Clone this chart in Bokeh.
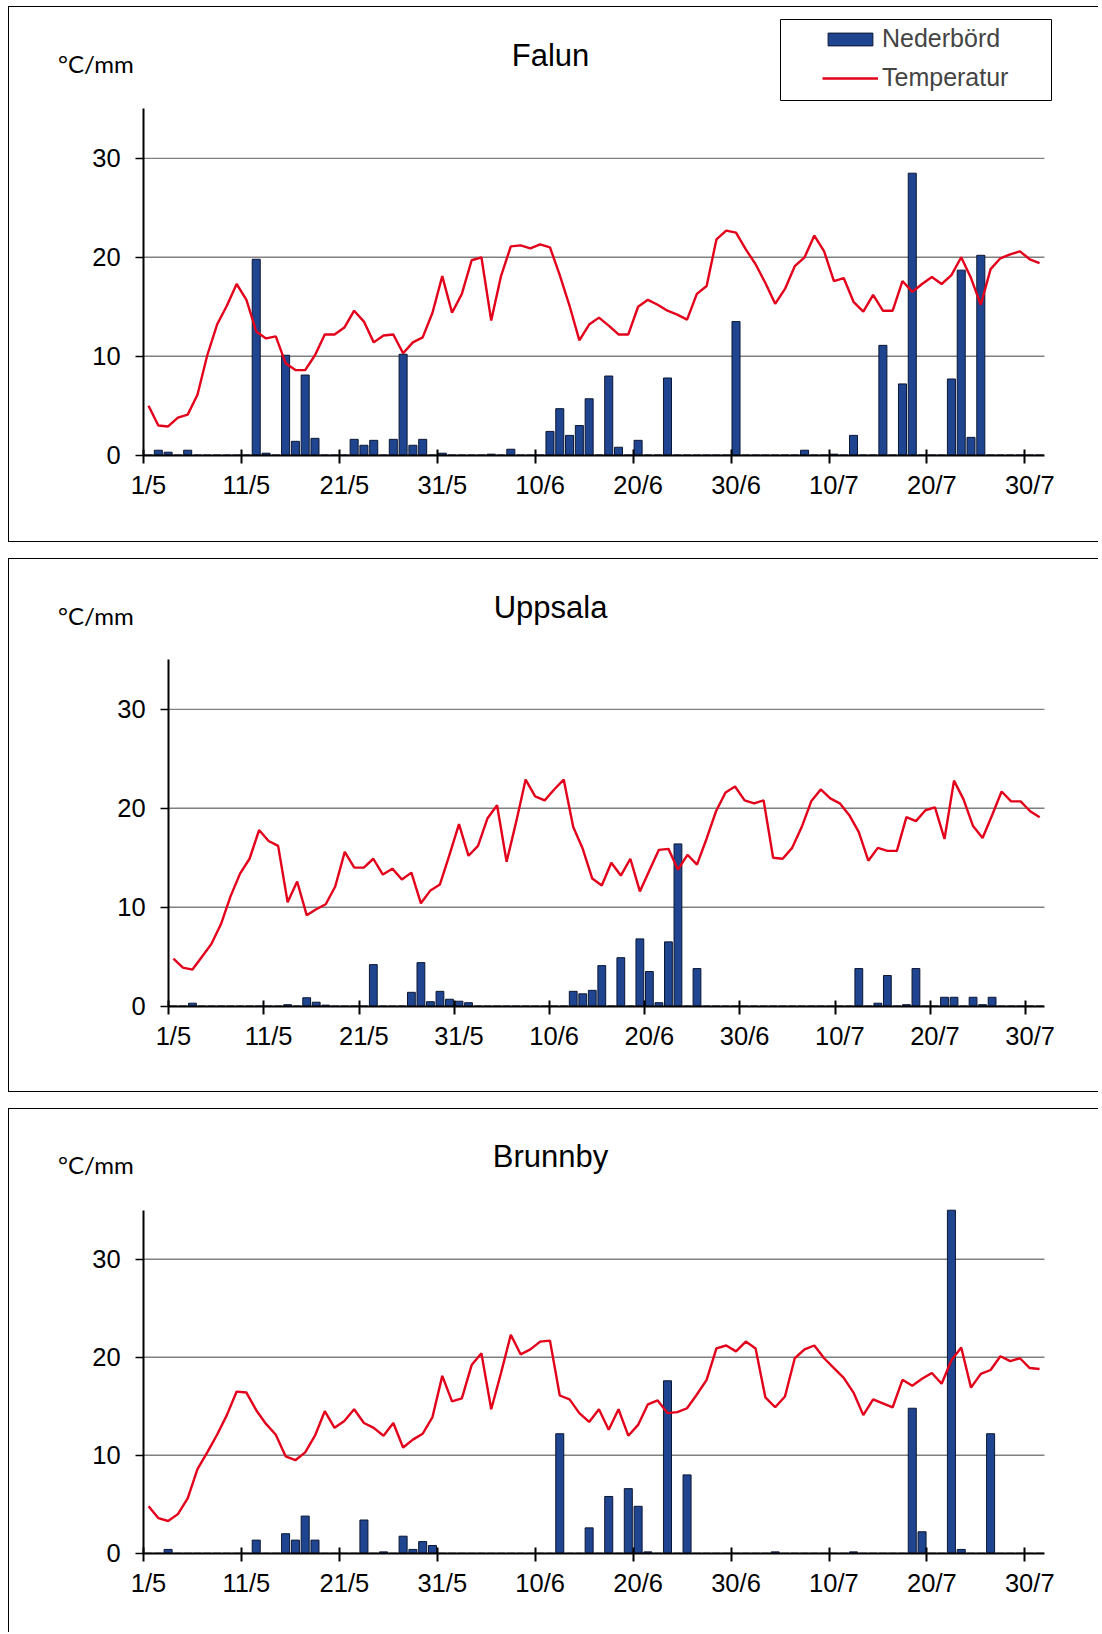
from bokeh.plotting import figure
from bokeh.models import (Range1d, FixedTicker, Label, Legend, LegendItem, BoxAnnotation,
                          LinearAxis)
from bokeh.layouts import column
from bokeh.embed import file_html
from bokeh.resources import INLINE

# ---- categories (1/5 .. 31/7, one per day) ----
days = list(range(92))
label_days = [0, 10, 20, 30, 40, 50, 60, 70, 80, 90]
tick_labels = ["1/5", "11/5", "21/5", "31/5", "10/6", "20/6", "30/6", "10/7", "20/7", "30/7"]
y_ticks = [0, 10, 20, 30]
grid_ticks = [10, 20, 30]
Y_MAX = 35

# ---- Falun ----
falun_temp = [5.0, 3.0, 2.9, 3.8, 4.1, 6.1, 10.1, 13.2, 15.1, 17.3,
              15.7, 12.5, 11.8, 12.0, 9.3, 8.6, 8.6, 10.1, 12.2, 12.2,
              12.9, 14.6, 13.5, 11.4, 12.1, 12.2, 10.3, 11.4, 11.9, 14.4,
              18.1, 14.4, 16.3, 19.7, 20.0, 13.6, 18.1, 21.1, 21.2, 20.9,
              21.3, 21.0, 18.2, 15.1, 11.6, 13.2, 13.9, 13.1, 12.2, 12.2,
              15.0, 15.7, 15.2, 14.6, 14.2, 13.7, 16.3, 17.1, 21.8, 22.7,
              22.5, 20.8, 19.3, 17.4, 15.3, 16.8, 19.1, 20.0, 22.2, 20.6,
              17.6, 17.9, 15.5, 14.5, 16.2, 14.6, 14.6, 17.6, 16.5, 17.3,
              18.0, 17.3, 18.2, 20.0, 17.9, 15.2, 18.8, 19.9, 20.3, 20.6,
              19.8, 19.4]
falun_rain = [0, 0.5, 0.3, 0, 0.5, 0, 0, 0, 0, 0,
              0, 19.8, 0.2, 0, 10.1, 1.4, 8.1, 1.7, 0, 0,
              0, 1.6, 1.0, 1.5, 0, 1.6, 10.2, 1.0, 1.6, 0,
              0.2, 0, 0, 0, 0, 0.1, 0, 0.6, 0, 0,
              0, 2.4, 4.7, 2.0, 3.0, 5.7, 0, 8.0, 0.8, 0,
              1.5, 0, 0, 7.8, 0, 0, 0, 0, 0, 0,
              13.5, 0, 0, 0, 0, 0, 0, 0.5, 0, 0,
              0.1, 0, 2.0, 0, 0, 11.1, 0, 7.2, 28.5, 0,
              0, 0, 7.7, 18.7, 1.8, 20.2, 0, 0, 0, 0,
              0, 0]

# ---- Uppsala ----
uppsala_temp = [4.8, 3.9, 3.7, 5.0, 6.3, 8.3, 11.1, 13.4, 14.9, 17.8,
                16.7, 16.2, 10.5, 12.6, 9.2, 9.8, 10.3, 12.1, 15.6, 14.0,
                14.0, 14.9, 13.3, 13.9, 12.8, 13.5, 10.4, 11.7, 12.3, 15.3,
                18.4, 15.2, 16.2, 19.0, 20.3, 14.6, 18.6, 22.9, 21.2, 20.8,
                21.9, 22.9, 18.1, 15.9, 12.9, 12.2, 14.5, 13.2, 14.9, 11.6,
                13.7, 15.8, 15.9, 13.8, 15.3, 14.3, 16.9, 19.7, 21.6, 22.2,
                20.8, 20.5, 20.8, 15.0, 14.9, 16.0, 18.1, 20.7, 21.9, 21.0,
                20.5, 19.3, 17.6, 14.7, 16.0, 15.7, 15.7, 19.1, 18.7, 19.8,
                20.1, 16.9, 22.8, 20.9, 18.2, 17.0, 19.3, 21.7, 20.7, 20.7,
                19.7, 19.1]
uppsala_rain = [0, 0, 0.3, 0, 0, 0, 0, 0, 0, 0,
                0, 0, 0.15, 0, 0.85, 0.4, 0.1, 0, 0, 0,
                0, 4.2, 0, 0, 0, 1.4, 4.4, 0.45, 1.5, 0.7,
                0.5, 0.35, 0, 0, 0, 0, 0, 0, 0, 0,
                0, 0, 1.5, 1.25, 1.6, 4.1, 0, 4.9, 0, 6.8,
                3.5, 0.35, 6.5, 16.4, 0, 3.8, 0, 0, 0, 0,
                0, 0, 0, 0, 0, 0, 0, 0, 0, 0,
                0, 0, 3.8, 0, 0.3, 3.1, 0, 0.15, 3.8, 0,
                0, 0.9, 0.9, 0, 0.9, 0.15, 0.9, 0, 0, 0,
                0, 0]

# ---- Brunnby ----
brunnby_temp = [4.8, 3.6, 3.3, 4.0, 5.6, 8.6, 10.3, 12.1, 14.1, 16.5,
                16.4, 14.6, 13.2, 12.1, 9.9, 9.5, 10.3, 12.0, 14.5, 12.8,
                13.5, 14.7, 13.3, 12.8, 12.0, 13.3, 10.8, 11.6, 12.2, 13.9,
                18.1, 15.5, 15.8, 19.2, 20.4, 14.7, 18.4, 22.3, 20.3, 20.8,
                21.6, 21.7, 16.1, 15.7, 14.3, 13.4, 14.7, 12.6, 14.7, 12.0,
                13.1, 15.2, 15.6, 14.3, 14.4, 14.8, 16.2, 17.7, 20.9, 21.2,
                20.6, 21.6, 20.9, 15.9, 14.9, 16.0, 19.9, 20.8, 21.2, 19.9,
                18.9, 17.9, 16.4, 14.1, 15.7, 15.3, 14.9, 17.7, 17.1, 17.8,
                18.4, 17.3, 19.7, 21.0, 16.9, 18.3, 18.7, 20.1, 19.6, 19.9,
                18.9, 18.8]
brunnby_rain = [0, 0, 0.4, 0, 0, 0, 0, 0, 0, 0,
                0, 1.35, 0, 0, 2.0, 1.35, 3.8, 1.35, 0, 0,
                0, 0, 3.4, 0, 0.15, 0, 1.75, 0.4, 1.2, 0.8,
                0, 0, 0, 0, 0, 0, 0, 0, 0, 0,
                0, 0, 12.2, 0, 0, 2.6, 0, 5.8, 0, 6.6,
                4.8, 0.15, 0, 17.6, 0, 8.0, 0, 0, 0, 0,
                0, 0, 0, 0, 0.15, 0, 0, 0, 0, 0,
                0, 0, 0.15, 0, 0, 0, 0, 0, 14.8, 2.2,
                0, 0, 40.0, 0.4, 0, 0, 12.2, 0, 0, 0,
                0, 0]

BAR_FILL = "#1F4591"
BAR_LINE = "#0B1733"
LINE_RED = "#E3001B"
GRID = "#808080"
SANS = "Liberation Sans"
TICK_SIZE = "25.5px"
W = 1090          # figure outer width (incl. 1px left border)
CL = 9            # content left (page px)
FRAME_RIGHT = 1043
X_LO_B, X_HI_B = days[0] - 0.5, days[-1] + 0.5


def make_panel(name, temp, rain, box_top, H, axis_left, y0_rel, y35_rel,
               legend=False, bottom_border=True):
    ct = box_top + 1
    cb = box_top + H - (1 if bottom_border else 0)
    ch = cb - ct
    cw = W - 1
    y0_abs = box_top + y0_rel
    y35_abs = box_top + y35_rel
    pxd = (FRAME_RIGHT - axis_left) / 92.0
    pyu = (y0_abs - y35_abs) / float(Y_MAX)
    x_lo = X_LO_B - (axis_left - CL) / pxd
    y_lo = -(cb - y0_abs) / pyu

    styles = {"border-left": "1px solid #000", "border-top": "1px solid #000"}
    if bottom_border:
        styles["border-bottom"] = "1px solid #000"
    p = figure(width=W, height=H, output_backend="svg", toolbar_location=None,
               x_range=Range1d(x_lo, x_lo + cw / pxd), y_range=Range1d(y_lo, y_lo + ch / pyu),
               x_axis_location=None, y_axis_location=None,
               min_border=0, min_border_left=0, min_border_right=0,
               min_border_top=0, min_border_bottom=0,
               background_fill_color="white", border_fill_color="white",
               outline_line_color=None, styles=styles, frame_align=False)

    # x axis on the zero line
    xa = LinearAxis(fixed_location=0, bounds=(X_LO_B, X_HI_B))
    xa.ticker = FixedTicker(ticks=label_days, minor_ticks=[d - 0.5 for d in label_days])
    xa.major_label_overrides = {d: t for d, t in zip(label_days, tick_labels)}
    xa.axis_line_width = 2
    xa.axis_line_color = "black"
    xa.major_tick_in = 0
    xa.major_tick_out = 0
    xa.minor_tick_in = 6
    xa.minor_tick_out = 8
    xa.minor_tick_line_width = 2
    xa.minor_tick_line_color = "black"
    xa.major_label_standoff = 8
    xa.major_label_text_font = SANS
    xa.major_label_text_font_size = TICK_SIZE
    xa.major_label_text_color = "black"
    p.add_layout(xa, "below")

    ya = LinearAxis(fixed_location=X_LO_B, bounds=(0, Y_MAX))
    ya.ticker = FixedTicker(ticks=y_ticks)
    ya.minor_tick_line_color = None
    ya.major_tick_in = 0
    ya.major_tick_out = 8
    ya.major_tick_line_width = 1.5
    ya.major_tick_line_color = "black"
    ya.axis_line_width = 2
    ya.axis_line_color = "black"
    ya.major_label_standoff = 15
    ya.major_label_text_font = SANS
    ya.major_label_text_font_size = TICK_SIZE
    ya.major_label_text_color = "black"
    p.add_layout(ya, "left")

    p.xgrid.visible = False
    p.ygrid.visible = False
    # horizontal grid lines spanning the category axis only
    p.segment(x0=[X_LO_B] * len(grid_ticks), x1=[X_HI_B] * len(grid_ticks),
              y0=grid_ticks, y1=grid_ticks, line_color=GRID, line_width=1.4)

    shown = [min(v, Y_MAX) for v in rain]
    bars = p.vbar(x=days, top=shown, bottom=0, width=0.82, fill_color=BAR_FILL,
                  line_color=BAR_LINE, line_width=1)
    temp_line = p.line(days, temp, line_color=LINE_RED, line_width=2.4)

    def sx(a):
        return a - CL

    def sy(a):
        return cb - a

    p.add_layout(Label(x=sx(57.5), y=sy(box_top + 67) + 12, x_units="screen", y_units="screen",
                       text="°C/mm", text_font="Lato", text_font_size="24px",
                       text_color="black", text_align="left", text_baseline="alphabetic"))
    p.add_layout(Label(x=sx(550), y=sy(box_top + 59.5) + 13, x_units="screen", y_units="screen",
                       text=name, text_font=SANS, text_font_size="31px",
                       text_color="black", text_align="center", text_baseline="alphabetic"))

    if legend:
        p.add_layout(BoxAnnotation(left=sx(780), right=sx(1051),
                                   top=sy(box_top + 11), bottom=sy(box_top + 92),
                                   left_units="screen", right_units="screen",
                                   top_units="screen", bottom_units="screen",
                                   fill_color=None, fill_alpha=0, line_color="black",
                                   line_width=1, line_alpha=1))
        lg = Legend(items=[LegendItem(label="Nederbörd", renderers=[bars]),
                           LegendItem(label="Temperatur", renderers=[temp_line])],
                    location=(sx(822), sy(box_top + 84)), padding=0, margin=0, spacing=10,
                    glyph_width=56, glyph_height=16, label_standoff=4,
                    label_text_font=SANS, label_text_font_size="25px",
                    border_line_color=None, background_fill_alpha=0)
        p.add_layout(lg)
    return p


p1 = make_panel("Falun", falun_temp, falun_rain, box_top=6, H=536, axis_left=143,
                y0_rel=447, y35_rel=102, legend=True)
p2 = make_panel("Uppsala", uppsala_temp, uppsala_rain, box_top=558, H=534, axis_left=168,
                y0_rel=446, y35_rel=101)
p3 = make_panel("Brunnby", brunnby_temp, brunnby_rain, box_top=1108, H=524, axis_left=143,
                y0_rel=444, y35_rel=101.5, bottom_border=False)

layout = column(p1, p2, p3, spacing=16, margin=(6, 0, 0, 8))
open("out.html", "w").write(file_html(layout, INLINE))
